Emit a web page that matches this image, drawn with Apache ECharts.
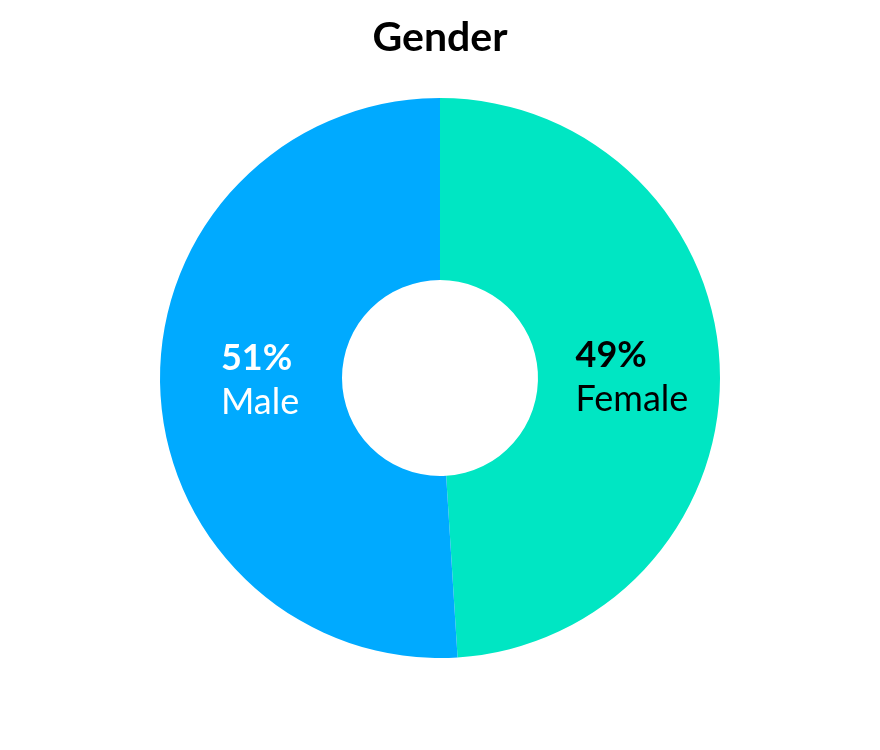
<!DOCTYPE html>
<html>
<head>
<meta charset="utf-8">
<script src="https://cdn.jsdelivr.net/npm/echarts@6/dist/echarts.min.js"></script>
<style>html,body{margin:0;padding:0;background:#fff;}#c{width:880px;height:750px;}</style>
</head>
<body>
<div id="c"></div>
<script>
const categories = ["Female", "Male"];
const values = [49, 51];
const colors = ["#00E6C3", "#00AAFF"];
const labelColors = ["#000000", "#ffffff"];
const labelOffsets = [[0, 5], [12, -4]];

const chart = echarts.init(document.getElementById('c'));
chart.setOption({
  animation: false,
  title: {
    text: "Gender",
    left: 'center',
    top: 12,
    textStyle: { fontFamily: 'Lato', fontWeight: 'bold', fontSize: 41, color: '#000' }
  },
  series: [{
    type: 'pie',
    center: [440, 378],
    radius: [98, 280],
    startAngle: 90,
    clockwise: true,
    avoidLabelOverlap: false,
    labelLine: { show: false },
    data: categories.map((c, i) => ({
      name: c,
      value: values[i],
      itemStyle: { color: colors[i] },
      label: {
        show: true,
        position: 'inside',
        offset: labelOffsets[i],
        formatter: '{p|{c}%}\n{n|{b}}',
        rich: {
          p: { fontFamily: 'Lato', fontWeight: 'bold', fontSize: 36, color: labelColors[i], lineHeight: 44, align: 'left' },
          n: { fontFamily: 'Lato', fontWeight: 'normal', fontSize: 36, color: labelColors[i], lineHeight: 44, align: 'left' }
        }
      }
    }))
  }]
});
</script>
</body>
</html>
